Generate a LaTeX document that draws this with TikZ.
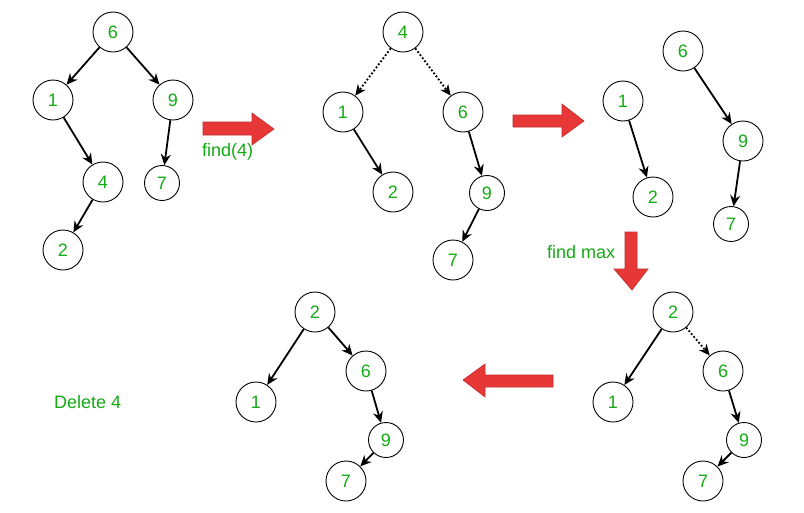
\documentclass[tikz,border=0pt]{standalone}
\usepackage{fontspec}
\setmainfont{Liberation Sans}
\usetikzlibrary{arrows.meta}
\definecolor{txtgreen}{RGB}{20,170,20}
\definecolor{arrred}{RGB}{232,55,55}
\definecolor{arrdark}{RGB}{190,45,45}
\tikzset{
  nd/.style={circle,draw=black,line width=0.9pt,minimum size=40pt,inner sep=0pt,
    text=txtgreen,font=\fontsize{18}{20}\selectfont},
  sm/.style={nd,minimum size=35pt},
  edge/.style={line width=1.8pt,-{Stealth[length=11pt,width=10pt]}},
  dedge/.style={line width=1.8pt,dotted,-{Stealth[length=11pt,width=10pt,line width=0pt]}},
  lbl/.style={text=txtgreen,font=\fontsize{18}{20}\selectfont,inner sep=0pt},
  bigarrow/.style={fill=arrred,draw=arrdark,line width=0.6pt}
}
\begin{document}
\begin{tikzpicture}[x=1pt,y=-1pt]
\useasboundingbox (0,0) rectangle (804,512);
% tree 1
\node[nd] (a6) at (113,32) {6};
\node[nd] (a1) at (53,100) {1};
\node[nd] (a9) at (173,100) {9};
\node[nd] (a4) at (103,182) {4};
\node[sm] (a7) at (162,183) {7};
\node[nd] (a2) at (63,250) {2};
\draw[edge] (a6) -- (a1);
\draw[edge] (a6) -- (a9);
\draw[edge] (a1) -- (a4);
\draw[edge] (a9) -- (a7);
\draw[edge] (a4) -- (a2);
% arrow 1
\draw[bigarrow] (203,122) -- (252,122) -- (252,113) -- (274,129) -- (252,145) -- (252,135) -- (203,135) -- cycle;
\node[lbl,anchor=west] (f4) at (202,152) {find(4)};
% tree 2
\node[nd] (b4) at (403,32) {4};
\node[nd] (b1) at (343,112) {1};
\node[nd] (b6) at (463,112) {6};
\node[nd] (b2) at (393,192) {2};
\node[sm] (b9) at (487,193) {9};
\node[nd] (b7) at (453,260) {7};
\draw[dedge] (b4) -- (b1);
\draw[dedge] (b4) -- (b6);
\draw[edge] (b1) -- (b2);
\draw[edge] (b6) -- (b9);
\draw[edge] (b9) -- (b7);
% arrow 2
\draw[bigarrow] (513,115) -- (562,115) -- (562,104) -- (584,121) -- (562,137) -- (562,127) -- (513,127) -- cycle;
% tree 3
\node[nd] (c1) at (623,101) {1};
\node[nd] (c2) at (653,197) {2};
\node[nd] (c6) at (683,51) {6};
\node[nd] (c9) at (743,141) {9};
\node[sm] (c7) at (731,224) {7};
\draw[edge] (c1) -- (c2);
\draw[edge] (c6) -- (c9);
\draw[edge] (c9) -- (c7);
% down arrow
\draw[bigarrow] (625,232) -- (637,232) -- (637,269) -- (648,269) -- (632,290) -- (614,269) -- (625,269) -- cycle;
\node[lbl,anchor=west] (fm) at (547,252) {find max};
% tree 4
\node[nd] (d2) at (673,312) {2};
\node[nd] (d6) at (723,371) {6};
\node[nd] (d1) at (613,402) {1};
\node[sm] (d9) at (744,440) {9};
\node[nd] (d7) at (703,481) {7};
\draw[edge] (d2) -- (d1);
\draw[dedge] (d2) -- (d6);
\draw[edge] (d6) -- (d9);
\draw[edge] (d9) -- (d7);
% left arrow
\draw[bigarrow] (553,375) -- (485,375) -- (485,364) -- (463,380) -- (485,397) -- (485,387) -- (553,387) -- cycle;
% tree 5
\node[nd] (e2) at (315,312) {2};
\node[nd] (e6) at (366,371) {6};
\node[nd] (e1) at (256,402) {1};
\node[sm] (e9) at (386,440) {9};
\node[nd] (e7) at (346,481) {7};
\draw[edge] (e2) -- (e1);
\draw[edge] (e2) -- (e6);
\draw[edge] (e6) -- (e9);
\draw[edge] (e9) -- (e7);
\node[lbl,anchor=west] (del) at (54,402) {Delete 4};
\end{tikzpicture}
\end{document}
